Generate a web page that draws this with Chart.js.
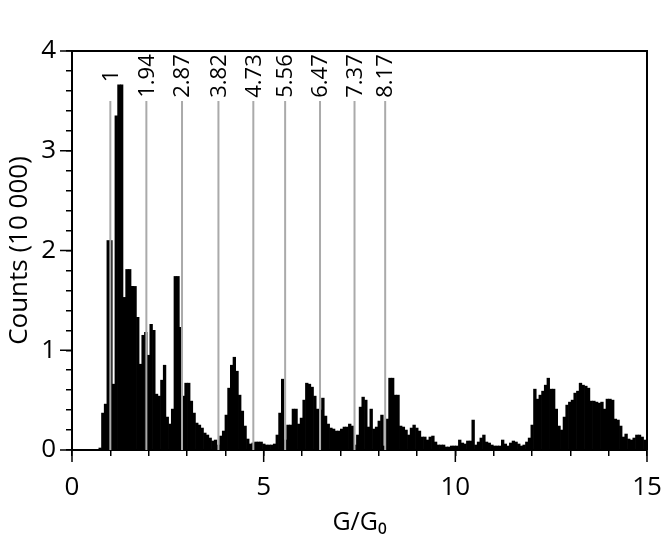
<!DOCTYPE html>
<html lang="en">
<head>
    <meta charset="UTF-8">
    <title>Conductance histogram</title>
    <style>
        body { margin: 0; background: #fff; }
        #wrap { position: relative; width: 664px; height: 542px; }
    </style>
</head>
<body>
    <div id="wrap"><canvas id="myChart"></canvas></div>
    <script src="https://cdn.jsdelivr.net/npm/chart.js"></script>

    <script>
        // histogram bins (G/G0), first bin starts at 0.70
        const binStart = 0.70
        const binWidth = 0.07
        // counts per bin, in units of 10 000
        const counts = [
            0.02, 0.37, 0.46, 2.10, 2.10, 0.66, 3.35, 3.66, 3.66, 1.53,
            1.81, 1.81, 1.64, 1.64, 1.33, 0.86, 1.15, 1.18, 0.95, 1.26,
            1.20, 0.56, 0.54, 0.70, 0.85, 0.33, 0.26, 0.41, 1.74, 1.74,
            1.23, 0.54, 0.67, 0.67, 0.49, 0.37, 0.27, 0.25, 0.22, 0.17,
            0.15, 0.12, 0.09, 0.10, 0.05, 0.14, 0.19, 0.35, 0.62, 0.85,
            0.93, 0.79, 0.55, 0.39, 0.24, 0.11, 0.06, 0.07, 0.08, 0.08,
            0.08, 0.06, 0.05, 0.05, 0.05, 0.06, 0.15, 0.37, 0.71, 0.10,
            0.25, 0.25, 0.41, 0.41, 0.26, 0.32, 0.50, 0.67, 0.66, 0.63,
            0.54, 0.41, 0.40, 0.52, 0.34, 0.26, 0.22, 0.21, 0.19, 0.19,
            0.21, 0.23, 0.23, 0.26, 0.24, 0.05, 0.15, 0.43, 0.53, 0.50,
            0.23, 0.41, 0.21, 0.23, 0.29, 0.35, 0.04, 0.31, 0.72, 0.72,
            0.55, 0.55, 0.24, 0.23, 0.20, 0.15, 0.22, 0.25, 0.22, 0.19,
            0.13, 0.13, 0.10, 0.13, 0.14, 0.08, 0.05, 0.05, 0.05, 0.03,
            0.03, 0.04, 0.04, 0.04, 0.10, 0.07, 0.06, 0.09, 0.09, 0.30,
            0.05, 0.08, 0.12, 0.15, 0.08, 0.07, 0.05, 0.04, 0.04, 0.04,
            0.10, 0.06, 0.04, 0.07, 0.09, 0.08, 0.06, 0.04, 0.05, 0.08,
            0.12, 0.25, 0.61, 0.51, 0.55, 0.59, 0.65, 0.72, 0.61, 0.61,
            0.41, 0.24, 0.20, 0.33, 0.45, 0.48, 0.50, 0.57, 0.59, 0.67,
            0.65, 0.64, 0.62, 0.49, 0.49, 0.48, 0.47, 0.48, 0.41, 0.51,
            0.51, 0.50, 0.31, 0.30, 0.24, 0.13, 0.16, 0.11, 0.10, 0.12,
            0.15, 0.15, 0.13, 0.10
        ]
        // marked peak positions
        const peakValues = [1, 1.94, 2.87, 3.82, 4.73, 5.56, 6.47, 7.37, 8.17]
        const peakLabels = ['1', '1.94', '2.87', '3.82', '4.73', '5.56', '6.47', '7.37', '8.17']
        const peakLineTop = 3.5
        const xMajorTicks = [0, 5, 10, 15]
        const yMajorTicks = [0, 1, 2, 3, 4]

        const points = counts.map((c, i) => ({ x: binStart + (i + 0.5) * binWidth, y: c }))

        Chart.defaults.font.family = "'Open Sans', 'DejaVu Sans', sans-serif"
        Chart.defaults.color = '#000'

        const isWhole = v => Math.abs(v - Math.round(v)) < 1e-6

        // frame, long major ticks and peak markers
        const extras = {
            id: 'extras',
            afterDatasetsDraw(chart) {
                const ctx = chart.ctx
                const xs = chart.scales.x
                const ys = chart.scales.y
                const a = chart.chartArea
                ctx.save()

                ctx.strokeStyle = '#aaaaaa'
                ctx.lineWidth = 2
                peakValues.forEach(v => {
                    const px = xs.getPixelForValue(v)
                    ctx.beginPath()
                    ctx.moveTo(px, ys.getPixelForValue(0))
                    ctx.lineTo(px, ys.getPixelForValue(peakLineTop))
                    ctx.stroke()
                })

                ctx.fillStyle = '#000'
                ctx.font = "22px 'Open Sans', 'DejaVu Sans', sans-serif"
                ctx.textAlign = 'center'
                ctx.textBaseline = 'middle'
                peakValues.forEach((v, i) => {
                    ctx.save()
                    ctx.translate(xs.getPixelForValue(v) + 1, a.top + 25)
                    ctx.rotate(-Math.PI / 2)
                    ctx.fillText(peakLabels[i], 0, 0)
                    ctx.restore()
                })

                ctx.strokeStyle = '#000'
                ctx.lineWidth = 2
                ctx.beginPath()
                ctx.moveTo(a.left, a.top)
                ctx.lineTo(a.right, a.top)
                ctx.lineTo(a.right, a.bottom)
                ctx.stroke()

                ctx.lineWidth = 1.5
                xMajorTicks.forEach(v => {
                    const px = xs.getPixelForValue(v)
                    ctx.beginPath()
                    ctx.moveTo(px, a.bottom)
                    ctx.lineTo(px, a.bottom + 12)
                    ctx.stroke()
                })
                yMajorTicks.forEach(v => {
                    const py = ys.getPixelForValue(v)
                    ctx.beginPath()
                    ctx.moveTo(a.left, py)
                    ctx.lineTo(a.left - 12, py)
                    ctx.stroke()
                })
                ctx.restore()
            }
        }

        const ctx = document.getElementById('myChart')
        const myChart = new Chart(ctx, {
            type: 'bar',
            data: {
                datasets: [{
                    label: 'Counts',
                    data: points,
                    backgroundColor: '#000',
                    borderWidth: 0,
                    barPercentage: 1,
                    categoryPercentage: 1
                }]
            },
            options: {
                responsive: true,
                maintainAspectRatio: false,
                animation: false,
                layout: { padding: { top: 51, right: 17, left: 0, bottom: 0 } },
                plugins: {
                    legend: { display: false },
                    tooltip: { enabled: false }
                },
                scales: {
                    x: {
                        type: 'linear',
                        offset: false,
                        min: 0,
                        max: 15,
                        afterFit: s => { s.height = 92; s.paddingLeft = 0; s.paddingRight = 0 },
                        ticks: {
                            stepSize: 1,
                            autoSkip: false,
                            maxRotation: 0,
                            padding: 16,
                            font: { size: 26 },
                            callback: v => (isWhole(v) && Math.round(v) % 5 === 0) ? Math.round(v) : ''
                        },
                        grid: { offset: false, drawOnChartArea: false, tickLength: 6, color: '#000', lineWidth: 1.5 },
                        border: { color: '#000', width: 2 },
                        title: {
                            display: true,
                            text: 'G/G\u2080',
                            font: { size: 25 },
                            padding: { top: 0, bottom: 4 }
                        }
                    },
                    y: {
                        min: 0,
                        max: 4,
                        afterFit: s => { s.width = 72 },
                        ticks: {
                            stepSize: 0.2,
                            autoSkip: false,
                            padding: 10,
                            font: { size: 26 },
                            callback: v => isWhole(v) ? Math.round(v) : ''
                        },
                        grid: { drawOnChartArea: false, tickLength: 6, color: '#000', lineWidth: 1.5 },
                        border: { color: '#000', width: 2 },
                        title: {
                            display: true,
                            text: 'Counts (10 000)',
                            font: { size: 26 },
                            padding: { top: 4, bottom: 0 }
                        }
                    }
                }
            },
            plugins: [extras]
        })
    </script>
</body>
</html>
